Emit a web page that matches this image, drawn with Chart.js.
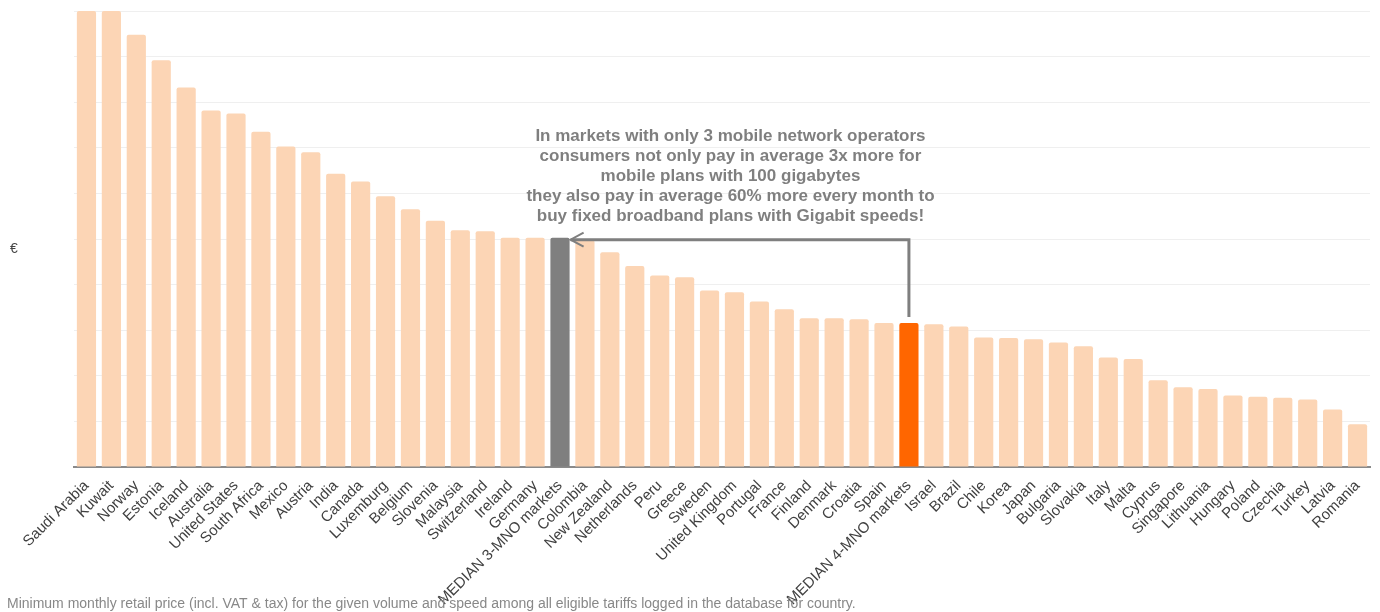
<!DOCTYPE html>
<html>
<head>
<meta charset="utf-8">
<script src="https://cdn.jsdelivr.net/npm/chart.js@4"></script>
<style>
  body { margin: 0; background: #fff; }
  #wrap { width: 1380px; height: 612px; position: relative; }
</style>
</head>
<body>
<div id="wrap"><canvas id="price-chart"></canvas></div>
<script>
const categories = ['Saudi Arabia', 'Kuwait', 'Norway', 'Estonia', 'Iceland', 'Australia', 'United States',
    'South Africa', 'Mexico', 'Austria', 'India', 'Canada', 'Luxemburg', 'Belgium', 'Slovenia', 'Malaysia',
    'Switzerland', 'Ireland', 'Germany', 'MEDIAN 3-MNO markets', 'Colombia', 'New Zealand', 'Netherlands',
    'Peru', 'Greece', 'Sweden', 'United Kingdom', 'Portugal', 'France', 'Finland', 'Denmark', 'Croatia',
    'Spain', 'MEDIAN 4-MNO markets', 'Israel', 'Brazil', 'Chile', 'Korea', 'Japan', 'Bulgaria', 'Slovakia',
    'Italy', 'Malta', 'Cyprus', 'Singapore', 'Lithuania', 'Hungary', 'Poland', 'Czechia', 'Turkey', 'Latvia',
    'Romania'];

const prices = [100, 100, 94.8, 89.2, 83.2, 78.2, 77.5, 73.5, 70.3, 69.0, 64.3, 62.6, 59.4, 56.5, 54.0, 51.9,
    51.7, 50.3, 50.3, 50.3, 49.8, 47.1, 44.1, 42.0, 41.6, 38.7, 38.3, 36.3, 34.6, 32.6, 32.6, 32.4,
    31.6, 31.6, 31.3, 30.8, 28.4, 28.3, 28.0, 27.3, 26.5, 24.0, 23.7, 19.0, 17.5, 17.1, 15.7, 15.4,
    15.2, 14.8, 12.6, 9.4];

const yTicks = { min: 0, max: 100, step: 10 };

const median3 = 'MEDIAN 3-MNO markets';
const median4 = 'MEDIAN 4-MNO markets';

const noteLines = [
    'In markets with only 3 mobile network operators',
    'consumers not only pay in average 3x more for',
    'mobile plans with 100 gigabytes',
    'they also pay in average 60% more every month to',
    'buy fixed broadband plans with Gigabit speeds!'
];
const footnote = 'Minimum monthly retail price (incl. VAT & tax) for the given volume and speed among all eligible tariffs logged in the database for country.';

const FONT = '"Liberation Sans", Arial, sans-serif';

const barColors = categories.map(c => c === median3 ? '#7f7f7f' : (c === median4 ? '#ff6600' : '#fcd5b5'));

// arrow, note text, euro sign and footnote
const extras = {
    id: 'extras',
    afterDatasetsDraw(chart) {
        const ctx = chart.ctx;
        const meta = chart.getDatasetMeta(0);
        const b3 = meta.data[categories.indexOf(median3)];
        const b4 = meta.data[categories.indexOf(median4)];
        const arrowY = b3.y + 2;
        const tipX = b3.x + b3.width / 2 + 1;

        ctx.save();
        ctx.strokeStyle = '#7f7f7f';
        ctx.lineWidth = 3;
        ctx.beginPath();
        ctx.moveTo(b4.x, b4.y - 6);
        ctx.lineTo(b4.x, arrowY);
        ctx.lineTo(tipX, arrowY);
        ctx.stroke();
        ctx.lineWidth = 2;
        ctx.beginPath();
        ctx.moveTo(tipX + 13, arrowY - 7);
        ctx.lineTo(tipX, arrowY);
        ctx.lineTo(tipX + 13, arrowY + 7);
        ctx.stroke();

        ctx.fillStyle = '#7f7f7f';
        ctx.font = 'bold 17px ' + FONT;
        ctx.textAlign = 'center';
        ctx.textBaseline = 'middle';
        const cx = (b3.x + b4.x) / 2 - 4;
        noteLines.forEach((line, i) => {
            ctx.fillText(line, cx, arrowY - 23 - 20 * (noteLines.length - 1 - i));
        });

        ctx.fillStyle = '#444';
        ctx.font = '14px ' + FONT;
        ctx.fillText('€', 14, (chart.chartArea.top + chart.chartArea.bottom) / 2 + 10);

        ctx.fillStyle = '#888';
        ctx.font = '14px ' + FONT;
        ctx.textAlign = 'left';
        ctx.fillText(footnote, 7, 604);
        ctx.restore();
    }
};

new Chart(document.getElementById('price-chart'), {
    type: 'bar',
    data: {
        labels: categories,
        datasets: [{
            data: prices,
            backgroundColor: barColors,
            borderRadius: 2,
            borderSkipped: 'bottom',
            categoryPercentage: 1,
            barPercentage: 0.77
        }]
    },
    options: {
        responsive: true,
        maintainAspectRatio: false,
        animation: false,
        layout: { padding: { top: 11, right: 10, left: 0, bottom: 0 } },
        scales: {
            x: {
                grid: { display: false },
                border: { color: '#8a8a8a', width: 2 },
                ticks: {
                    color: '#404040',
                    font: { family: FONT, size: 15 },
                    maxRotation: 45,
                    minRotation: 45,
                    autoSkip: false,
                    padding: 2
                },
                afterFit(scale) { scale.height = 145; }
            },
            y: {
                min: yTicks.min,
                max: yTicks.max,
                ticks: { display: false, stepSize: yTicks.step },
                grid: { color: '#efefef', lineWidth: 1, drawTicks: false },
                border: { display: false },
                afterFit(scale) { scale.width = 74; }
            }
        },
        plugins: {
            legend: { display: false },
            tooltip: { enabled: false }
        }
    },
    plugins: [extras]
});
</script>
</body>
</html>
